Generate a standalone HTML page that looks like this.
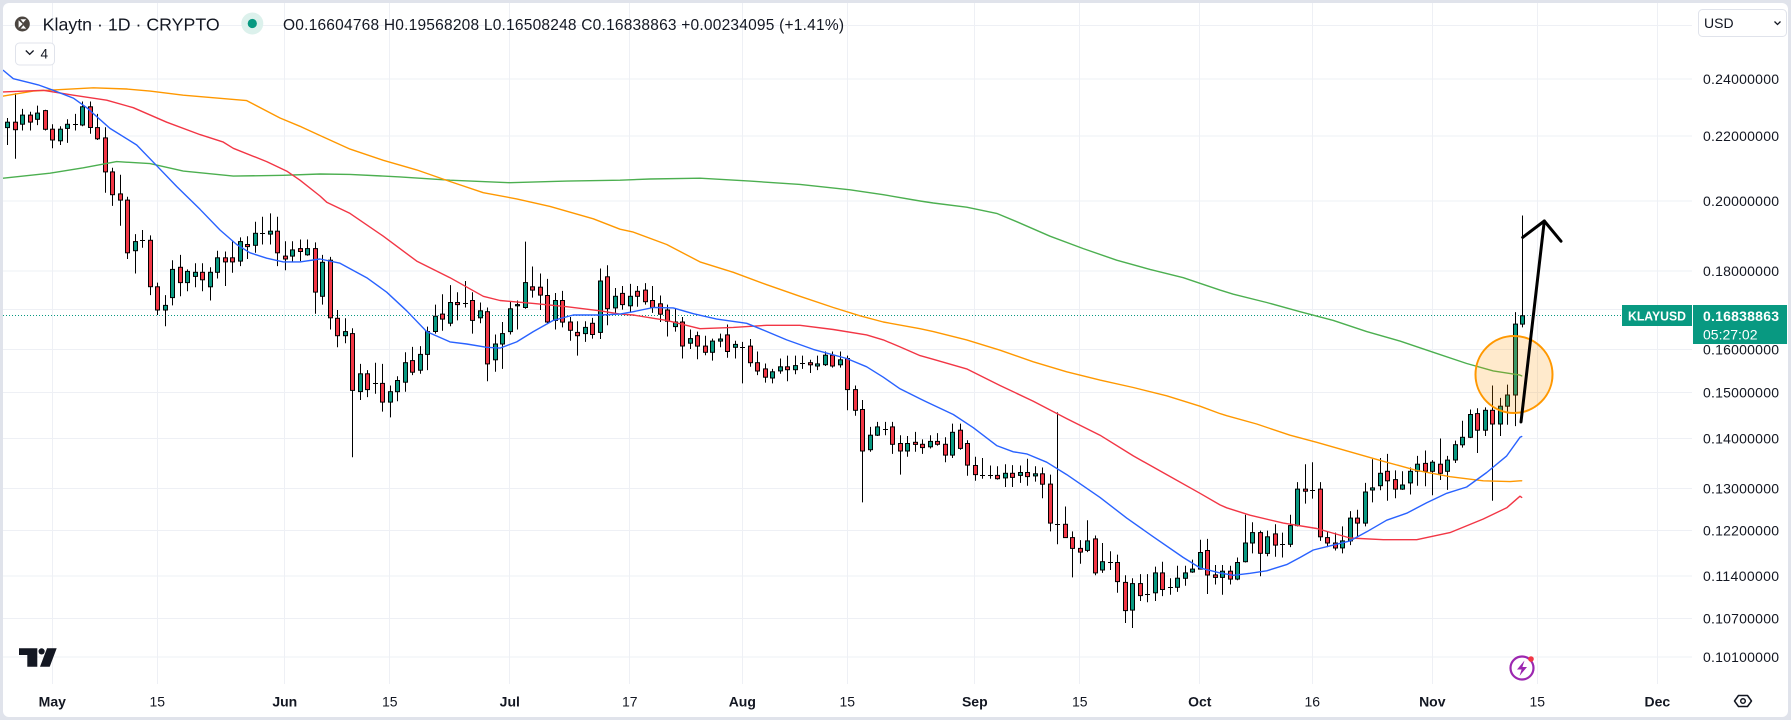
<!DOCTYPE html>
<html><head><meta charset="utf-8">
<style>
html,body{margin:0;padding:0;background:#e0e3eb;}
body{width:1791px;height:720px;overflow:hidden;position:relative;}
#panel{position:absolute;left:3px;top:3px;width:1785px;height:714px;background:#fff;border-radius:6px;}
svg{position:absolute;left:0;top:0;}
text{font-family:"Liberation Sans",Arial,sans-serif;fill:#131722;}
</style></head><body>
<div id="panel"></div>
<svg id="s" width="1791" height="720" viewBox="0 0 1791 720">
<defs><clipPath id="cp"><rect x="3" y="3" width="1689" height="681"/></clipPath></defs>
<g stroke="#eef0f5" stroke-width="1">
<line x1="3" x2="1692" y1="25.5" y2="25.5"/>
<line x1="3" x2="1692" y1="79" y2="79"/>
<line x1="3" x2="1692" y1="136" y2="136"/>
<line x1="3" x2="1692" y1="201" y2="201"/>
<line x1="3" x2="1692" y1="271" y2="271"/>
<line x1="3" x2="1692" y1="309.5" y2="309.5"/>
<line x1="3" x2="1692" y1="349.5" y2="349.5"/>
<line x1="3" x2="1692" y1="392.5" y2="392.5"/>
<line x1="3" x2="1692" y1="438.5" y2="438.5"/>
<line x1="3" x2="1692" y1="488.5" y2="488.5"/>
<line x1="3" x2="1692" y1="530.5" y2="530.5"/>
<line x1="3" x2="1692" y1="576" y2="576"/>
<line x1="3" x2="1692" y1="618.5" y2="618.5"/>
<line x1="3" x2="1692" y1="657" y2="657"/>
<line y1="3" y2="684" x1="52.5" x2="52.5"/>
<line y1="3" y2="684" x1="157.5" x2="157.5"/>
<line y1="3" y2="684" x1="284.5" x2="284.5"/>
<line y1="3" y2="684" x1="389.5" x2="389.5"/>
<line y1="3" y2="684" x1="509.5" x2="509.5"/>
<line y1="3" y2="684" x1="629.5" x2="629.5"/>
<line y1="3" y2="684" x1="742.5" x2="742.5"/>
<line y1="3" y2="684" x1="847.5" x2="847.5"/>
<line y1="3" y2="684" x1="974.5" x2="974.5"/>
<line y1="3" y2="684" x1="1079.5" x2="1079.5"/>
<line y1="3" y2="684" x1="1199.5" x2="1199.5"/>
<line y1="3" y2="684" x1="1312.5" x2="1312.5"/>
<line y1="3" y2="684" x1="1432.5" x2="1432.5"/>
<line y1="3" y2="684" x1="1537.5" x2="1537.5"/>
<line y1="3" y2="684" x1="1657.5" x2="1657.5"/>
</g>
<line x1="3" x2="1622" y1="315.5" y2="315.5" stroke="#089981" stroke-width="1" stroke-dasharray="1 2"/>
<g id="candles"></g>
<g id="mas" clip-path="url(#cp)" fill="none" stroke-width="1.4" stroke-linejoin="round" stroke-linecap="round">
<polyline id="ma200" stroke="#4caf50"/>
<polyline id="ma100" stroke="#ff9800"/>
<polyline id="ma50" stroke="#f23645"/>
<polyline id="ma20" stroke="#2962ff"/>
</g>
<circle cx="1514" cy="374.5" r="38.5" fill="rgba(255,152,0,0.2)" stroke="#ff9800" stroke-width="2"/>
<g fill="none" stroke="#000" stroke-width="3" stroke-linecap="round" stroke-linejoin="round">
<line x1="1521" y1="422" x2="1544.3" y2="221"/>
<polyline points="1522.7,237.4 1544.3,221 1561,241.2"/>
</g>

<!-- header -->
<circle cx="22.3" cy="24" r="7.5" fill="#4b4540"/>
<path d="M18.6,20.2 L22.6,24 L18.6,27.8 Z M20.5,19.2 L26.2,19.2 L23.2,22.6 Z M23.4,25.4 L26.2,28.6 L20.6,28.6 Z" fill="#fff"/>
<text x="42.7" y="30.7" font-size="17.5" textLength="177" lengthAdjust="spacingAndGlyphs">Klaytn · 1D · CRYPTO</text>
<circle cx="252.3" cy="23.5" r="11" fill="#dcf1ec"/>
<circle cx="252.3" cy="23.5" r="4.6" fill="#089981"/>
<text x="283" y="30" font-size="15.5" textLength="561" lengthAdjust="spacing">O0.16604768  H0.19568208  L0.16508248  C0.16838863  +0.00234095  (+1.41%)</text>
<rect x="15.5" y="43" width="39" height="22" rx="4" fill="#fff" stroke="#e0e3eb" stroke-width="1"/>
<polyline points="25.8,50.5 29.7,54.3 33.6,50.5" fill="none" stroke="#131722" stroke-width="1.3"/>
<text x="40.5" y="58.5" font-size="13.5">4</text>

<!-- price axis -->
<g font-size="14">
<text x="1703" y="84" textLength="76" lengthAdjust="spacing">0.24000000</text>
<text x="1703" y="141" textLength="76" lengthAdjust="spacing">0.22000000</text>
<text x="1703" y="206" textLength="76" lengthAdjust="spacing">0.20000000</text>
<text x="1703" y="276" textLength="76" lengthAdjust="spacing">0.18000000</text>
<text x="1703" y="314.5" textLength="76" lengthAdjust="spacing">0.17000000</text>
<text x="1703" y="354.5" textLength="76" lengthAdjust="spacing">0.16000000</text>
<text x="1703" y="397.5" textLength="76" lengthAdjust="spacing">0.15000000</text>
<text x="1703" y="443.5" textLength="76" lengthAdjust="spacing">0.14000000</text>
<text x="1703" y="493.5" textLength="76" lengthAdjust="spacing">0.13000000</text>
<text x="1703" y="535.5" textLength="76" lengthAdjust="spacing">0.12200000</text>
<text x="1703" y="581" textLength="76" lengthAdjust="spacing">0.11400000</text>
<text x="1703" y="623.5" textLength="76" lengthAdjust="spacing">0.10700000</text>
<text x="1703" y="662" textLength="76" lengthAdjust="spacing">0.10100000</text>
</g>
<rect x="1698.5" y="9.5" width="88" height="27" rx="4" fill="#fff" stroke="#e0e3eb"/>
<text x="1704" y="28" font-size="14">USD</text>
<polyline points="1774.5,21.5 1777.5,24.5 1780.5,21.5" fill="none" stroke="#131722" stroke-width="1.3"/>

<rect x="1622" y="305" width="70" height="21" fill="#089981"/>
<text x="1628" y="320.5" font-size="13" font-weight="bold" style="fill:#fff" textLength="58" lengthAdjust="spacingAndGlyphs">KLAYUSD</text>
<rect x="1693" y="305" width="94" height="39" fill="#089981"/>
<text x="1703" y="321" font-size="14" font-weight="bold" style="fill:#fff" textLength="76" lengthAdjust="spacing">0.16838863</text>
<text x="1703" y="339.5" font-size="14" style="fill:#fff">05:27:02</text>

<!-- time axis -->
<g font-size="14" text-anchor="middle">
<text x="52.3" y="706.5" font-weight="bold">May</text>
<text x="157.3" y="706.5">15</text>
<text x="284.8" y="706.5" font-weight="bold">Jun</text>
<text x="389.8" y="706.5">15</text>
<text x="509.8" y="706.5" font-weight="bold">Jul</text>
<text x="629.8" y="706.5">17</text>
<text x="742.3" y="706.5" font-weight="bold">Aug</text>
<text x="847.3" y="706.5">15</text>
<text x="974.8" y="706.5" font-weight="bold">Sep</text>
<text x="1079.8" y="706.5">15</text>
<text x="1199.8" y="706.5" font-weight="bold">Oct</text>
<text x="1312.3" y="706.5">16</text>
<text x="1432.3" y="706.5" font-weight="bold">Nov</text>
<text x="1537.3" y="706.5">15</text>
<text x="1657.3" y="706.5" font-weight="bold">Dec</text>
</g>
<path d="M1734.5,701 L1738.5,695.5 L1747.5,695.5 L1751.5,701 L1747.5,706.5 L1738.5,706.5 Z" fill="none" stroke="#131722" stroke-width="1.5" stroke-linejoin="round"/>
<circle cx="1743" cy="701" r="2.3" fill="none" stroke="#131722" stroke-width="1.5"/>

<!-- TV logo -->
<path d="M19,648.3 H37.3 V666.7 H27.3 V655 H19 Z" fill="#131722"/>
<circle cx="41.6" cy="651.4" r="3.1" fill="#131722"/>
<path d="M47,648.3 H56.7 L49.7,666.7 H40 Z" fill="#131722"/>

<!-- lightning icon -->
<circle cx="1522" cy="668" r="11.5" fill="#fff" stroke="#9c27b0" stroke-width="2.2"/>
<path d="M1524.5,660.5 L1517,669.5 L1521.6,669.5 L1519.5,676 L1527,667 L1522.4,667 Z" fill="#9c27b0"/>
<circle cx="1531" cy="659" r="2.8" fill="#f23645"/>
</svg>
<script>
(function(){
var Y=function(v){return 60+v/2.412;};
var D="g 140 150 163 205|r 80 150 168 238|g 118 133 155 170|r 125 133 150 170|g 110 128 143 157|r 120 122 167 170|r 155 167 193 213|g 160 167 195 205|g 143 155 165 200|d 130 155 155 170|"+
"g 100 113 157 160|r 100 113 163 178|r 130 163 190 193|r 162 188 270 320|r 260 270 325 352|r 277 323 338 400|r 330 338 465 480|g 420 438 460 515|d 410 433 433 453|r 423 435 547 567|"+
"r 537 547 603 615|g 567 592 603 642|g 483 505 573 592|r 470 500 537 570|g 505 510 537 558|g 490 512 522 548|r 490 512 530 558|g 500 512 547 580|g 460 477 512 527|r 462 477 487 545|"+
"r 437 477 487 513|g 428 438 485 497|r 425 445 450 480|g 390 418 447 465|d 378 418 418 445|g 370 413 420 445|r 378 413 465 497|r 437 473 480 507|g 437 458 473 487|r 433 455 462 485|"+
"g 433 455 470 472|r 440 455 560 612|g 470 488 570 590|r 475 483 622 650|r 603 623 665 693|g 623 655 665 683|r 647 660 797 958|g 733 757 800 820|r 748 757 795 813|d 730 780 780 805|"+
"r 733 780 825 848|g 785 800 825 862|g 763 773 800 823|g 705 730 777 800|r 692 725 753 760|g 690 710 748 757|g 643 655 710 748|g 590 618 655 660|r 565 613 625 653|g 543 585 635 642|"+
"r 560 585 590 628|d 533 585 585 597|r 560 580 628 660|g 585 605 622 635|r 597 607 733 775|g 662 685 723 752|g 632 660 685 745|g 582 600 655 662|g 580 590 593 650|g 438 537 597 600|"+
"r 498 547 555 573|r 515 548 567 603|r 528 568 632 637|g 562 580 628 650|r 557 580 632 645|r 620 632 652 677|r 630 657 665 713|g 630 645 660 680|r 622 635 662 672|g 503 533 657 673|"+
"r 495 523 600 640|g 550 570 598 610|r 545 563 590 602|g 540 570 593 608|r 545 558 570 595|r 538 555 583 590|r 545 580 597 610|r 568 588 613 632|r 590 603 630 667|g 600 632 643 655|"+
"r 620 632 690 720|g 650 672 683 697|r 655 665 690 722|r 665 690 705 712|g 672 678 705 725|g 660 673 678 693|r 638 663 703 718|g 677 686 693 720|d 680 692 692 780|r 673 690 730 740|"+
"r 703 730 750 760|r 732 745 765 778|g 745 752 767 780|g 720 740 750 757|r 713 740 747 775|g 713 737 747 758|d 713 730 730 745|r 723 730 735 755|g 713 733 738 748|g 703 712 735 738|"+
"r 703 712 738 742|g 703 723 735 742|r 713 720 795 845|r 785 795 845 858|r 820 843 943 1067|g 885 905 940 945|g 873 885 905 907|d 873 890 890 905|r 873 885 927 950|r 905 925 943 1000|"+
"g 907 925 943 957|r 897 922 927 945|r 915 927 935 950|g 905 920 933 937|r 900 920 927 930|r 910 927 953 970|g 877 898 953 960|r 877 893 937 940|r 917 925 977 1003|r 957 978 1000 1015|"+
"d 960 1000 1000 1010|d 978 1000 1000 1010|r 980 1002 1010 1012|g 975 997 1008 1030|r 977 997 1007 1030|g 978 995 1002 1020|r 962 995 1005 1027|g 980 998 1003 1017|r 983 998 1023 1057|r 1000 1023 1117 1137|"+
"d 850 1118 1118 1168|r 1077 1120 1152 1153|r 1137 1152 1178 1248|r 1158 1178 1187 1215|g 1110 1160 1183 1187|r 1147 1155 1237 1243|g 1165 1210 1230 1237|d 1185 1210 1210 1230|r 1193 1212 1258 1285|r 1243 1260 1328 1358|"+
"g 1250 1263 1327 1370|r 1240 1263 1292 1305|d 1240 1288 1288 1308|g 1222 1237 1285 1305|r 1210 1237 1277 1293|d 1250 1272 1272 1290|g 1220 1250 1272 1283|g 1220 1237 1250 1268|g 1205 1228 1235 1237|g 1157 1188 1228 1228|"+
"r 1155 1183 1242 1288|r 1218 1242 1248 1265|g 1218 1233 1248 1290|r 1220 1233 1252 1265|g 1200 1212 1252 1255|g 1097 1165 1210 1212|g 1115 1140 1165 1190|r 1135 1140 1190 1245|g 1135 1150 1190 1197|r 1120 1143 1170 1198|"+
"d 1140 1168 1168 1200|g 1097 1123 1168 1175|g 1018 1035 1123 1125|r 975 1035 1040 1070|d 970 1038 1038 1058|r 1018 1035 1150 1160|r 1137 1152 1165 1175|r 1140 1165 1177 1183|g 1125 1160 1177 1190|g 1088 1105 1160 1170|"+
"r 1085 1105 1117 1150|g 1020 1042 1117 1125|g 963 1032 1037 1067|g 960 997 1027 1038|r 950 992 1015 1063|r 990 1012 1035 1057|g 992 1025 1035 1037|g 983 992 1020 1048|g 955 975 992 1027|r 942 973 992 1028|"+
"g 965 970 992 1050|r 913 975 997 1013|g 955 965 992 1037|g 918 928 965 972|g 870 910 928 935|g 843 855 910 912|r 840 853 893 948|g 838 845 893 907|r 785 845 878 1063|g 815 835 878 907|"+
"g 783 808 835 880|g 608 637 808 883|g 375 617 637 645";
var out='';
D.split('|').forEach(function(s,i){
  var p=s.trim().split(/\s+/),c=p[0];
  var wt=+p[1],bt=+p[2],bb=+p[3],wb=+p[4];
  var cx=Math.round(7.33+7.5*i);
  out+='<line x1="'+(cx+0.5)+'" x2="'+(cx+0.5)+'" y1="'+Y(wt).toFixed(1)+'" y2="'+Y(wb).toFixed(1)+'" stroke="#000" stroke-width="1"/>';
  if(c==='d'){
    var yy=Math.round(Y(bt))+0.5;
    out+='<line x1="'+(cx-2)+'" x2="'+(cx+3)+'" y1="'+yy+'" y2="'+yy+'" stroke="#000" stroke-width="1"/>';
  } else {
    var y1=Y(bt),y2=Y(bb),h=Math.max(1,y2-y1);
    out+='<rect x="'+(cx-1.5)+'" y="'+y1.toFixed(1)+'" width="4" height="'+h.toFixed(1)+'" fill="'+(c==='g'?'#089981':'#f23645')+'" stroke="#000" stroke-width="1"/>';
  }
});
document.getElementById('candles').innerHTML=out;

function build(id,segs){
  var pts=[],last=-1;
  segs.forEach(function(sg){
    var x0=sg[0];
    sg[1].forEach(function(q){
      var rx=x0+q[0]/3;
      if(rx>last+0.5){pts.push(rx.toFixed(1)+','+Y(q[1]).toFixed(1));last=rx;}
    });
  });
  document.getElementById(id).setAttribute('points',pts.join(' '));
}
build('ma20',[
[0,[[10,25],[40,45],[90,55],[115,60],[160,73],[220,92],[260,115],[330,165],[410,205],[470,255],[530,305],[600,360],[660,410],[710,445],[750,465],[800,478],[850,487],[900,487],[960,480]]],
[300,[[0,487],[50,480],[120,490],[200,525],[260,560],[320,605],[380,655],[450,680],[500,685],[560,693],[600,695],[650,680],[700,655],[760,628],[820,615],[900,615],[960,613]]],
[600,[[0,613],[100,607],[160,597],[220,598],[280,612],[350,625],[440,635],[480,648],[560,675],[640,698],[740,720],[800,740],[850,765],[900,793],[960,817]]],
[900,[[0,795],[80,825],[160,855],[220,887],[290,930],[340,945],[380,950],[440,970],[500,1000],[600,1055],[680,1105],[760,1150],[850,1200],[900,1225],[960,1237]]],
[1200,[[0,1222],[50,1238],[100,1243],[150,1238],[200,1232],[260,1217],[300,1200],[340,1182],[400,1170],[450,1160],[500,1138],[560,1110],[620,1093],[680,1068],[740,1045],[800,1030],[860,995],[920,955],[960,910]]],
[1440,[[0,1052],[100,1025],[200,955],[245,908]]]
]);
build('ma50',[
[0,[[10,77],[130,73],[220,85],[320,97],[400,115],[500,150],[600,180],[670,198],[700,213],[800,245],[860,268],[900,290],[960,328]]],
[300,[[0,293],[80,343],[150,370],[250,425],[350,485],[450,525],[550,570],[600,580],[700,587],[800,595],[900,605],[960,613]]],
[600,[[0,605],[100,615],[200,628],[300,648],[400,645],[500,640],[600,640],[700,650],[800,663],[850,675],[900,692],[960,713]]],
[900,[[0,697],[100,722],[200,745],[300,785],[400,823],[500,865],[600,905],[700,955],[800,1000],[900,1045],[960,1073]]],
[1200,[[0,1045],[80,1080],[150,1098],[250,1117],[350,1130],[450,1153],[550,1157],[650,1157],[750,1140],[850,1107],[920,1080],[960,1052]]],
[1440,[[0,1150],[100,1125],[200,1083],[245,1055]]]
]);
build('ma100',[
[0,[[10,87],[100,75],[280,67],[380,70],[450,75],[550,85],[700,95],[740,98],[840,140],[900,160],[960,182]]],
[300,[[0,158],[40,172],[150,215],[250,242],[350,265],[450,293],[550,320],[650,335],[750,353],[880,383],[960,408]]],
[600,[[0,390],[100,415],[200,445],[300,487],[400,512],[500,542],[600,570],[700,597],[780,617],[850,632],[960,648]]],
[900,[[0,640],[100,655],[200,675],[300,700],[400,728],[500,752],[600,772],[700,790],[800,810],[900,835],[960,853]]],
[1200,[[0,835],[80,858],[170,878],[270,905],[350,922],[450,945],[550,968],[650,990],[750,1005],[850,1015],[930,1017],[960,1015]]],
[1440,[[0,998],[100,1010],[200,1017],[245,1015]]]
]);
build('ma200',[
[0,[[10,285],[150,273],[250,260],[350,245],[450,250],[550,268],[700,280],[850,278],[960,275]]],
[300,[[0,276],[150,276],[300,282],[450,290],[630,296],[800,292],[960,290]]],
[600,[[0,292],[150,287],[300,285],[450,292],[600,300],[750,313],[850,325],[960,340]]],
[900,[[0,333],[100,345],[200,355],[290,370],[350,390],[450,425],[550,455],[650,483],[750,505],[850,525],[960,555]]],
[1200,[[0,540],[100,565],[200,585],[300,607],[400,628],[500,655],[600,678],[700,705],[800,732],[880,750],[960,760]]],
[1440,[[0,713],[100,738],[245,762]]]
]);
})();
</script>
</body></html>
